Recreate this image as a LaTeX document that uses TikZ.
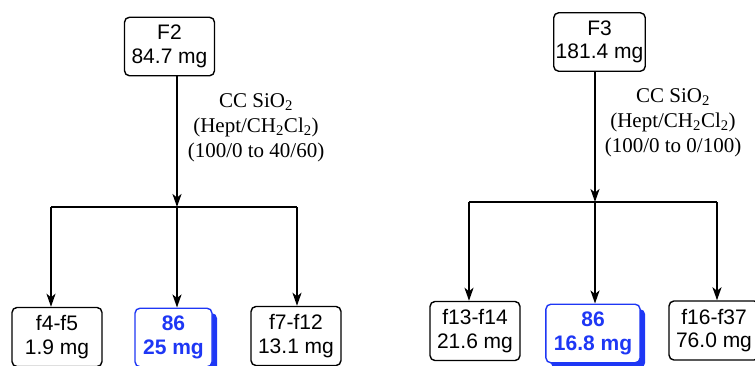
\documentclass[tikz,border=0pt]{standalone}
\usepackage{fontspec}
\setmainfont{Liberation Serif}
\setsansfont{Liberation Sans}
\usetikzlibrary{arrows.meta,shadows}
\definecolor{fblue}{RGB}{30,55,245}
\tikzset{
  frac/.style={draw,line width=1.4pt,rounded corners=5pt,align=center,
    minimum width=90pt,inner xsep=2pt,inner ysep=8pt,
    font=\sffamily\fontsize{21}{23.5}\selectfont},
  pure/.style={frac,draw=fblue,text=fblue,fill=white,minimum width=77pt,inner xsep=8pt,
    font=\sffamily\bfseries\fontsize{21}{23.5}\selectfont,
    drop shadow={shadow xshift=5pt,shadow yshift=-5pt,fill=fblue,opacity=1}},
  cond/.style={align=center,font=\fontsize{21}{25}\selectfont},
  flow/.style={line width=1.8pt,-{Stealth[length=13pt,width=9pt,inset=3.5pt]}}
}
\begin{document}
\begin{tikzpicture}[x=1pt,y=-1pt]
\useasboundingbox (0,0) rectangle (755,365);
% left column: F2
\node[frac] (F2) at (169.5,46.5) {F2\\84.7 mg};
\coordinate (L) at (177,207); \coordinate (L1) at (51,207); \coordinate (L3) at (297,207);
\node[cond] (c2) at (256,128) {CC SiO\textsubscript{2}\\(Hept/CH\textsubscript{2}Cl\textsubscript{2})\\(100/0 to 40/60)};
\node[frac] (f45) at (57,337) {f4-f5\\1.9 mg};
\node[pure] (p2) at (173.5,337.5) {86\\25 mg};
\node[frac] (f712) at (296,336) {f7-f12\\13.1 mg};
\draw[flow] (L |- F2.south) -- (L);
\draw[line width=1.8pt] (L1) -- (L3);
\draw[flow] (L1) -- (L1 |- f45.north);
\draw[flow] (L) -- (L |- p2.north);
\draw[flow] (L3) -- (L3 |- f712.north);
% right column: F3
\node[frac] (F3) at (599.5,42) {F3\\181.4 mg};
\coordinate (R) at (595,202); \coordinate (R1) at (469,202); \coordinate (R3) at (717,202);
\node[cond] (c3) at (673,123) {CC SiO\textsubscript{2}\\(Hept/CH\textsubscript{2}Cl\textsubscript{2})\\(100/0 to 0/100)};
\node[frac] (f1314) at (475,331) {f13-f14\\21.6 mg};
\node[pure] (p3) at (593,333.5) {86\\16.8 mg};
\node[frac] (f1637) at (714,330.5) {f16-f37\\76.0 mg};
\draw[flow] (R |- F3.south) -- (R);
\draw[line width=1.8pt] (R1) -- (R3);
\draw[flow] (R1) -- (R1 |- f1314.north);
\draw[flow] (R) -- (R |- p3.north);
\draw[flow] (R3) -- (R3 |- f1637.north);
\end{tikzpicture}
\end{document}
